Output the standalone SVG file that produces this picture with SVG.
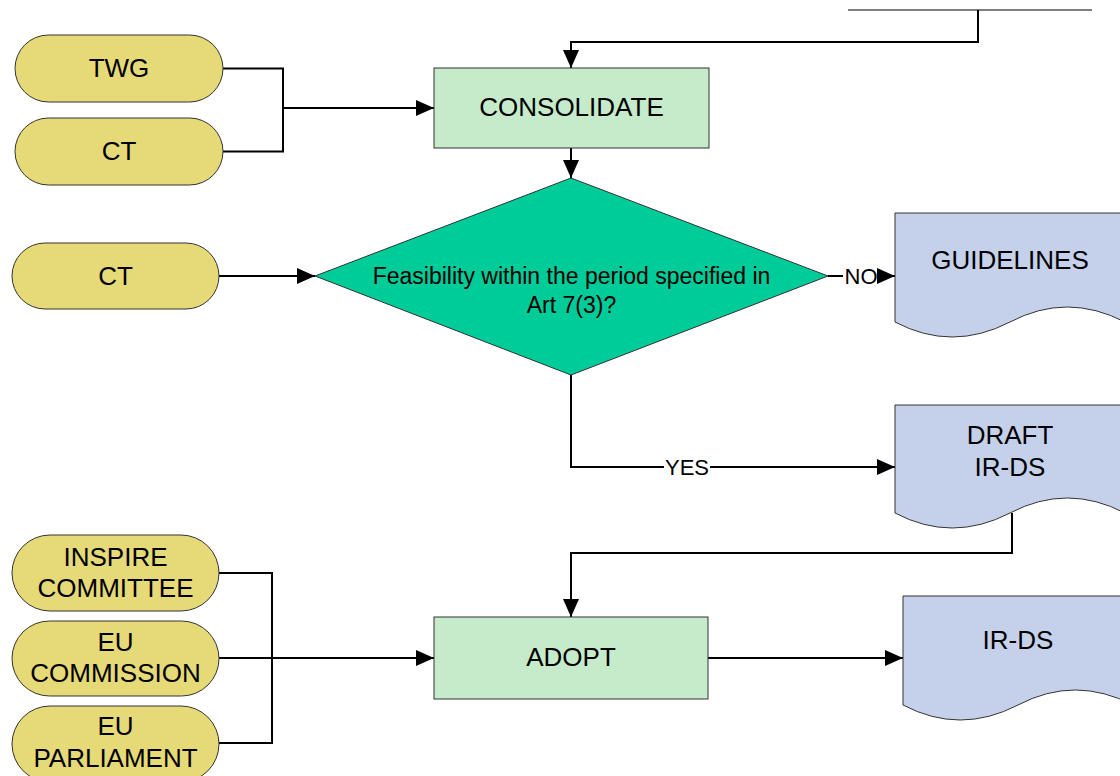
<svg xmlns="http://www.w3.org/2000/svg" width="1120" height="776" viewBox="0 0 1120 776">
<defs>
<marker id="arr" viewBox="0 0 18 16" refX="18" refY="8" markerWidth="18" markerHeight="16" markerUnits="userSpaceOnUse" orient="auto"><path d="M0,0 L18,8 L0,16 z" fill="#000"/></marker>
</defs>
<style>
.pill{fill:#E6D978;stroke:#333;stroke-width:1}
.proc{fill:#C5EBCA;stroke:#333;stroke-width:1}
.dec{fill:#00CC99;stroke:#333;stroke-width:1}
.doc{fill:#C5D1EB;stroke:#333;stroke-width:1}
.t{font-family:"Liberation Sans",Arial,sans-serif;font-size:26px;fill:#000;text-anchor:middle}
.td{font-family:"Liberation Sans",Arial,sans-serif;font-size:23px;fill:#000;text-anchor:middle}
.tl{font-family:"Liberation Sans",Arial,sans-serif;font-size:22px;fill:#000;text-anchor:middle}
.c{fill:none;stroke:#000;stroke-width:2}
.ca{fill:none;stroke:#000;stroke-width:2;marker-end:url(#arr)}
</style>
<rect width="1120" height="776" fill="#fff"/>
<g id="connectors">
<line x1="848" y1="10" x2="1092" y2="10" stroke="#000" stroke-width="1"/>
<path class="ca" d="M978,10 V42 H571 V68"/>
<path class="c" d="M223,68.5 H283 V151.5 H223"/>
<path class="ca" d="M283,108 H434"/>
<path class="ca" d="M571,148 V178"/>
<path class="ca" d="M219,276 H315"/>
<path class="c" d="M828,276 H843"/>
<path class="ca" d="M878,276 H895"/>
<path class="c" d="M571,375 V467 H664"/>
<path class="ca" d="M710,467 H895"/>
<path class="ca" d="M1012,513 V553 H571 V617"/>
<path class="c" d="M219,573 H272 V743 H219"/>
<path class="ca" d="M219,658 H434"/>
<path class="ca" d="M708,658 H903"/>
<text class="tl" x="861" y="284">NO</text>
<text class="tl" x="687" y="475">YES</text>
</g>
<g id="twg"><rect class="pill" x="15" y="35" width="208" height="67" rx="33.5"/><text class="t" x="119" y="77">TWG</text></g>
<g id="ct1"><rect class="pill" x="15" y="118" width="208" height="67" rx="33.5"/><text class="t" x="119" y="160">CT</text></g>
<g id="ct2"><rect class="pill" x="12" y="243" width="207" height="66" rx="33"/><text class="t" x="115.5" y="285">CT</text></g>
<g id="consolidate"><rect class="proc" x="434" y="68" width="275" height="80"/><text class="t" x="571.5" y="116">CONSOLIDATE</text></g>
<g id="decision"><polygon class="dec" points="315,276 571,178 828,276 571,375"/><text class="td" x="571.5" y="284">Feasibility within the period specified in</text><text class="td" x="571.5" y="313">Art 7(3)?</text></g>
<g id="guidelines"><path class="doc" d="M895,213 H1125 V322 Q1067,292 1010,322 Q952,352 895,322 Z"/><text class="t" x="1010" y="269">GUIDELINES</text></g>
<g id="draft"><path class="doc" d="M895,405 H1125 V513 Q1067,483 1010,513 Q952,543 895,513 Z"/><text class="t" x="1010" y="444">DRAFT</text><text class="t" x="1010" y="476">IR-DS</text></g>
<g id="inspire"><rect class="pill" x="12" y="535" width="207" height="76" rx="38"/><text class="t" x="115.5" y="566">INSPIRE</text><text class="t" x="115.5" y="597">COMMITTEE</text></g>
<g id="commission"><rect class="pill" x="12" y="621" width="207" height="75" rx="37.5"/><text class="t" x="115.5" y="651">EU</text><text class="t" x="115.5" y="682">COMMISSION</text></g>
<g id="parliament"><rect class="pill" x="12" y="706" width="207" height="76" rx="38"/><text class="t" x="115.5" y="735">EU</text><text class="t" x="115.5" y="767">PARLIAMENT</text></g>
<g id="adopt"><rect class="proc" x="434" y="617" width="274" height="82"/><text class="t" x="571" y="666">ADOPT</text></g>
<g id="irds"><path class="doc" d="M903,596 H1133 V705 Q1075,675 1018,705 Q960,735 903,705 Z"/><text class="t" x="1018" y="649">IR-DS</text></g>
</svg>
